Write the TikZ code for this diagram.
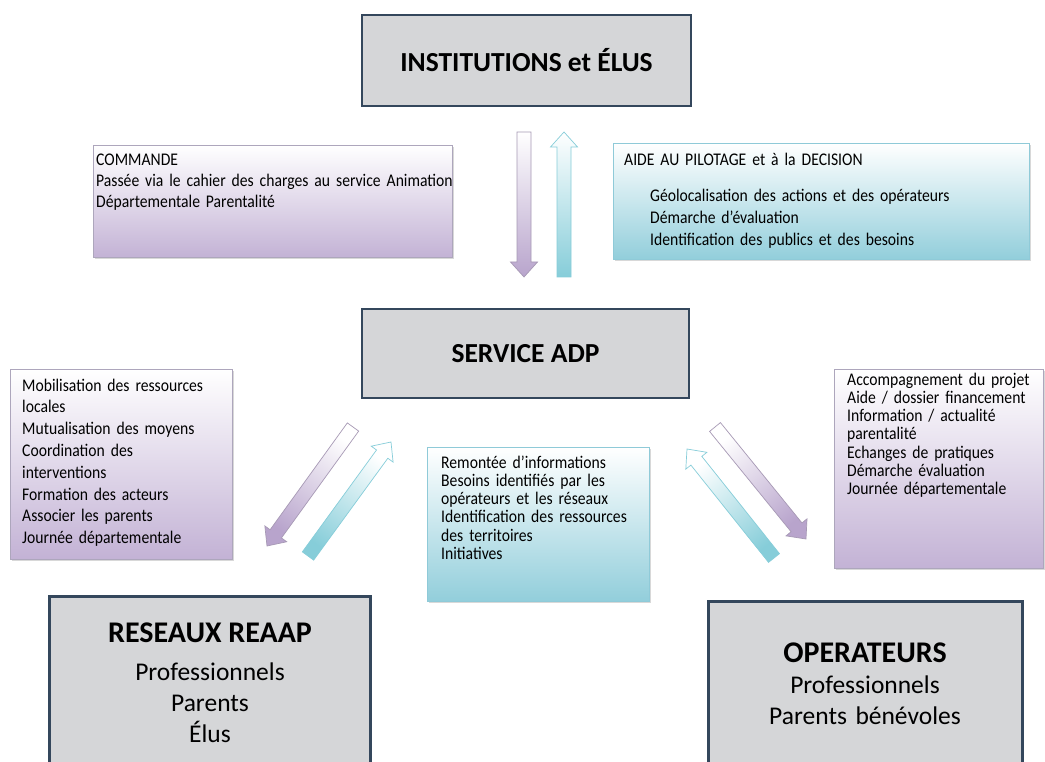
\documentclass[tikz,border=0pt]{standalone}
\usepackage{fontspec}
\setmainfont{Carlito}
\newfontfamily\listfont{Carlito}[FakeStretch=0.88]
\usetikzlibrary{calc,shadows,positioning}

\definecolor{boxgray}{HTML}{D5D6D8}
\definecolor{boxline}{HTML}{34475C}
\definecolor{lilac}{HTML}{C3B2D5}
\definecolor{lilacline}{HTML}{ADA6BC}
\definecolor{aqua}{HTML}{92CEDB}
\definecolor{aqualine}{HTML}{8FCAD8}
\definecolor{arrowlilac}{HTML}{B8A4CC}
\definecolor{arrowaqua}{HTML}{86CDD9}

% block arrow: style, tail, tip
\newcommand{\bigarrow}[3]{%
  \coordinate (ah) at ($(#3)!15pt!(#2)$);
  \path[#1] ($(#2)!7pt!90:(#3)$) -- ($(ah)!7pt!90:(#3)$) -- ($(ah)!13.5pt!90:(#3)$)
    -- (#3) -- ($(ah)!13.5pt!-90:(#3)$) -- ($(ah)!7pt!-90:(#3)$) -- ($(#2)!7pt!-90:(#3)$) -- cycle;
}

\begin{document}
\begin{tikzpicture}[x=1pt,y=-1pt,
  title/.style={rectangle,draw=boxline,line width=2.5pt,fill=boxgray,inner sep=0pt,font=\fontsize{27.5}{33}\selectfont\bfseries},
  tier/.style={rectangle,draw=boxline,line width=2.5pt,fill=boxgray,anchor=north west,minimum height=200pt},
  tiertitle/.style={anchor=base,inner sep=0pt,font=\fontsize{30}{36}\selectfont\bfseries},
  tiertext/.style={anchor=base,inner sep=0pt,text width=300pt,align=center,font=\fontsize{25.5}{31}\selectfont},
  lilacbox/.style={rectangle,draw=lilacline,line width=0.8pt,top color=white,bottom color=lilac,anchor=north west,
    drop shadow={opacity=0.3,shadow xshift=1.5pt,shadow yshift=-2pt}},
  aquabox/.style={rectangle,draw=aqualine,line width=0.8pt,top color=white,bottom color=aqua,anchor=north west,
    drop shadow={opacity=0.3,shadow xshift=1.5pt,shadow yshift=-2pt}},
  txt/.style={anchor=base west,inner sep=0pt,align=left,text width=420pt,font=\listfont\fontsize{17.8}{#1}\selectfont},
  lilacarrow/.style={draw=arrowlilac!70!gray,line width=0.7pt,top color=white,bottom color=arrowlilac},
  aquaarrow/.style={draw=arrowaqua,line width=0.7pt,top color=white,bottom color=arrowaqua}]
\clip (0,0) rectangle (1045,762);
\fill[white] (0,0) rectangle (1045,762);

% Top level
\node[title,minimum width=329pt,minimum height=91pt] (inst) at (526.5,60.5) {INSTITUTIONS et ÉLUS};
\node[lilacbox,minimum width=359pt,minimum height=112pt] (commande) at (93,145) {};
\node[txt=21] (commande-txt) at (96,166) {COMMANDE\\Passée via le cahier des charges au service Animation\\Départementale Parentalité};
\node[aquabox,minimum width=416pt,minimum height=116pt] (aide) at (613,143) {};
\node[txt=22] (aide-txt) at (624,166) {AIDE AU PILOTAGE et à la DECISION\\[14pt]
  \hspace*{26pt}Géolocalisation des actions et des opérateurs\\
  \hspace*{26pt}Démarche d’évaluation\\
  \hspace*{26pt}Identification des publics et des besoins};

% Service
\node[title,minimum width=327pt,minimum height=89pt] (adp) at (525.5,353.5) {SERVICE ADP};
\node[lilacbox,minimum width=222pt,minimum height=190pt] (ressources) at (10,369) {};
\node[txt=21.8] (ressources-txt) at (22,391) {Mobilisation des ressources\\locales\\Mutualisation des moyens\\Coordination des\\interventions\\Formation des acteurs\\Associer les parents\\Journée départementale};
\node[aquabox,minimum width=222pt,minimum height=154pt] (remontee) at (427,447) {};
\node[txt=18.3] (remontee-txt) at (441,468) {Remontée d’informations\\Besoins identifiés par les\\opérateurs et les réseaux\\Identification des ressources\\des territoires\\Initiatives};
\node[lilacbox,minimum width=209pt,minimum height=199pt] (accomp) at (834,369) {};
\node[txt=18.3] (accomp-txt) at (847,385) {Accompagnement du projet\\Aide / dossier financement\\Information / actualité\\parentalité\\Echanges de pratiques\\Démarche évaluation\\Journée départementale};

% Bottom level
\node[tier,minimum width=321pt] (reaap) at (48,595) {};
\node[tiertitle] (reaap-title) at (210,642) {RESEAUX REAAP};
\node[tiertext] (reaap-txt) at (210,680) {Professionnels\\Parents\\Élus};
\node[tier,minimum width=314pt] (oper) at (707,600) {};
\node[tiertitle] (oper-title) at (865,662) {OPERATEURS};
\node[tiertext] (oper-txt) at (865,693) {Professionnels\\Parents bénévoles};

% Arrows
\coordinate (down-a) at (524,132);
\coordinate (down-b) at (524,277);
\coordinate (up-a) at (564,277);
\coordinate (up-b) at (564,132);
\coordinate (sw-a) at (353,427);
\coordinate (sw-b) at (267,546);
\coordinate (ne-a) at (308,556);
\coordinate (ne-b) at (391,442);
\coordinate (se-a) at (715,427);
\coordinate (se-b) at (806,539);
\coordinate (nw-a) at (774,558);
\coordinate (nw-b) at (687,449);
\bigarrow{lilacarrow}{down-a}{down-b}
\bigarrow{aquaarrow}{up-a}{up-b}
\bigarrow{lilacarrow,shading angle=-36}{sw-a}{sw-b}
\bigarrow{aquaarrow,shading angle=-36}{ne-a}{ne-b}
\bigarrow{lilacarrow,shading angle=39}{se-a}{se-b}
\bigarrow{aquaarrow,shading angle=39}{nw-a}{nw-b}
\end{tikzpicture}
\end{document}
